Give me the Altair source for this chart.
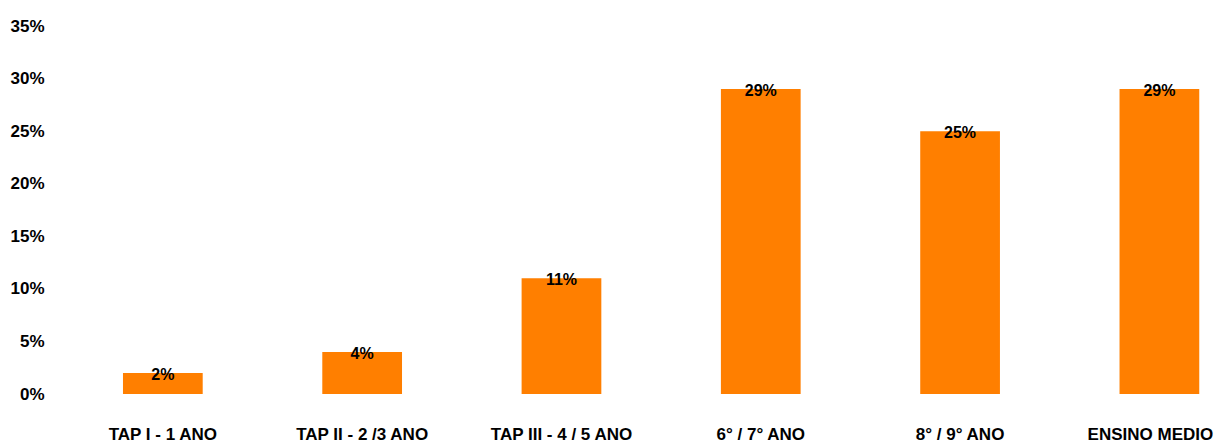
import altair as alt
import pandas as pd

categories = ["TAP I - 1 ANO", "TAP II - 2 /3 ANO", "TAP III - 4 / 5 ANO",
              "6° / 7° ANO", "8° / 9° ANO", "ENSINO MEDIO"]
values = [0.02, 0.04, 0.11, 0.29, 0.25, 0.29]
y_ticks = [0, 0.05, 0.10, 0.15, 0.20, 0.25, 0.30, 0.35]

df = pd.DataFrame({"cat": categories, "val": values})

FONT = "Liberation Sans"
ORANGE = "#FF7F00"

x = alt.X("cat:N", sort=categories, title=None,
          scale=alt.Scale(paddingInner=0.6, paddingOuter=0.2025, align=0.805),
          axis=alt.Axis(labelAngle=0, ticks=False, domain=False, grid=False,
                        labelFont=FONT, labelFontSize=17, labelFontWeight="bold",
                        labelColor="#000000", labelPadding=45, labelBaseline="alphabetic",
                        labelLimit=300,
                        labelOffset={"condition": {"test": "datum.value === 'ENSINO MEDIO'",
                                                   "value": -9},
                                     "value": 0}))
y = alt.Y("val:Q", title=None,
          scale=alt.Scale(domain=[0, 0.35], nice=False, zero=True),
          axis=alt.Axis(values=y_ticks, format=".0%", ticks=False, domain=False, grid=False,
                        labelFont=FONT, labelFontSize=17, labelFontWeight="bold",
                        labelColor="#000000", labelPadding=14))

bars = alt.Chart(df).mark_bar(color=ORANGE).encode(x=x, y=y)
labels = alt.Chart(df).mark_text(font=FONT, fontSize=16, fontWeight="bold",
                                 color="#000000", baseline="middle", dy=2).encode(
    x=alt.X("cat:N", sort=categories),
    y=alt.Y("val:Q"),
    text=alt.Text("val:Q", format=".0%"))

chart = (bars + labels).properties(
    width=1157, height=368,
    autosize=alt.AutoSizeParams(type="none"),
    padding={"left": 50, "top": 18, "right": 4, "bottom": 50},
).configure(background="white").configure_view(stroke=None, strokeWidth=0)

chart.save("out.html", embed_options={"renderer": "svg", "actions": False})
